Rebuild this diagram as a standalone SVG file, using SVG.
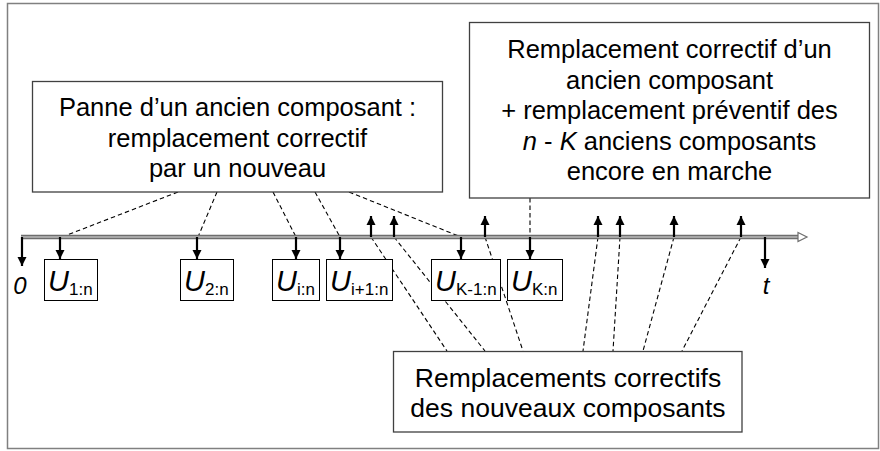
<svg xmlns="http://www.w3.org/2000/svg" width="880" height="451" viewBox="0 0 880 451">
<style>
.lbl{font-family:"Liberation Sans",Arial,sans-serif;font-size:25.5px;fill:#000;text-anchor:middle}
.big{font-size:26.5px}
.box{fill:#fff;stroke:#404040;stroke-width:1.3}
.ubox{fill:#fff;stroke:#000;stroke-width:1}
.u{font-family:"Liberation Sans",Arial,sans-serif;font-size:29px;font-style:italic;fill:#000}
.sub{font-family:"Liberation Sans",Arial,sans-serif;font-size:17px;fill:#000}
.it{font-family:"Liberation Sans",Arial,sans-serif;font-size:24px;font-style:italic;fill:#000}
.dash{fill:none;stroke:#000;stroke-width:1.1;stroke-dasharray:4.5,3}
.arr{fill:none;stroke:#000;stroke-width:2.2;marker-end:url(#ah)}
</style>
<defs>
<marker id="ah" markerUnits="userSpaceOnUse" markerWidth="10" markerHeight="10" refX="9" refY="5" orient="auto">
<path d="M0,0.5 L9,5 L0,9.5 z" fill="#000"/>
</marker>
</defs>
<rect x="0" y="0" width="880" height="451" fill="#fff"/>
<rect x="7.5" y="3.5" width="871" height="445" fill="none" stroke="#808080" stroke-width="1.5"/>

<g id="connectors">
<path class="dash" d="M178,192 L62,237"/>
<path class="dash" d="M217,192 L198,237"/>
<path class="dash" d="M273,192 L296,237"/>
<path class="dash" d="M315,192 L340,237"/>
<path class="dash" d="M349,192 L461,237"/>
<path class="dash" d="M530,198 L530,237"/>
<path class="dash" d="M371,237 L447,351"/>
<path class="dash" d="M394,237 L485,351"/>
<path class="dash" d="M485,237 L523,351"/>
<path class="dash" d="M598,237 L583,351"/>
<path class="dash" d="M620,237 L613,351"/>
<path class="dash" d="M674,237 L643,351"/>
<path class="dash" d="M741,237 L682,351"/>
</g>

<g id="timeline">
<line x1="21" y1="237" x2="799" y2="237" stroke="#6e6e6e" stroke-width="4.5"/>
<line x1="21" y1="237" x2="799" y2="237" stroke="#bdbdbd" stroke-width="1.5"/>
<path d="M798,232.5 L807,237 L798,241.5 z" fill="#fff" stroke="#6e6e6e" stroke-width="1.2"/>
<path class="arr" d="M22,237 V266"/>
<path class="arr" d="M60,237 V259"/>
<path class="arr" d="M197,237 V259"/>
<path class="arr" d="M296,237 V259"/>
<path class="arr" d="M340,237 V259"/>
<path class="arr" d="M461,237 V259"/>
<path class="arr" d="M530,237 V259"/>
<path class="arr" d="M765,237 V268"/>
<path class="arr" d="M371,237 V216"/>
<path class="arr" d="M394,237 V216"/>
<path class="arr" d="M485,237 V216"/>
<path class="arr" d="M598,237 V216"/>
<path class="arr" d="M620,237 V216"/>
<path class="arr" d="M674,237 V216"/>
<path class="arr" d="M741,237 V216"/>
<text class="it" x="20" y="294" text-anchor="middle">0</text>
<text class="it" x="766" y="294" text-anchor="middle">t</text>
</g>

<g id="u1">
<rect class="ubox" x="44.5" y="259.5" width="53" height="41"/>
<text class="u" x="48" y="291">U</text><text class="sub" x="69" y="295">1:n</text>
</g>
<g id="u2">
<rect class="ubox" x="180.5" y="259.5" width="53" height="41"/>
<text class="u" x="184" y="291">U</text><text class="sub" x="205" y="295">2:n</text>
</g>
<g id="ui">
<rect class="ubox" x="272.5" y="259.5" width="47" height="41"/>
<text class="u" x="276" y="291">U</text><text class="sub" x="297" y="295">i:n</text>
</g>
<g id="ui1">
<rect class="ubox" x="326.5" y="259.5" width="66" height="41"/>
<text class="u" x="330" y="291">U</text><text class="sub" x="351" y="295">i+1:n</text>
</g>
<g id="uk1">
<rect class="ubox" x="431.5" y="259.5" width="69" height="41"/>
<text class="u" x="435" y="291">U</text><text class="sub" x="456" y="295">K-1:n</text>
</g>
<g id="uk">
<rect class="ubox" x="507.5" y="259.5" width="55" height="41"/>
<text class="u" x="511" y="291">U</text><text class="sub" x="532" y="295">K:n</text>
</g>

<g id="panne">
<rect class="box" x="32.5" y="81.5" width="410" height="110.5"/>
<text class="lbl" x="237.5" y="116">Panne d’un ancien composant :</text>
<text class="lbl" x="237.5" y="146.5">remplacement correctif</text>
<text class="lbl" x="237.5" y="177">par un nouveau</text>
</g>

<g id="preventif">
<rect class="box" x="469.5" y="22.5" width="400" height="175.5"/>
<text class="lbl" x="669.5" y="58">Remplacement correctif d’un</text>
<text class="lbl" x="669.5" y="88.5">ancien composant</text>
<text class="lbl" x="669.5" y="119">+ remplacement préventif des</text>
<text class="lbl" x="669.5" y="149.5"><tspan font-style="italic">n</tspan> - <tspan font-style="italic">K</tspan> anciens composants</text>
<text class="lbl" x="669.5" y="180">encore en marche</text>
</g>

<g id="nouveaux">
<rect class="box" x="393.5" y="351.5" width="348.5" height="80.5"/>
<text class="lbl big" x="568" y="386.5">Remplacements correctifs</text>
<text class="lbl big" x="568" y="417">des nouveaux composants</text>
</g>
</svg>
